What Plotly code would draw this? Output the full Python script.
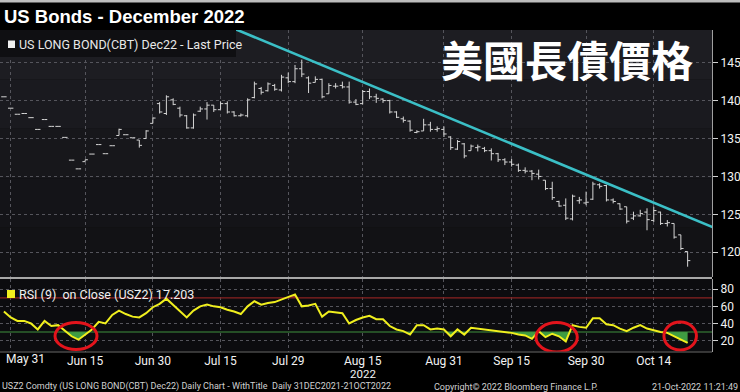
import pandas as pd
import plotly.graph_objects as go

W, H = 740, 392

# ---------------- data ----------------
HOLIDAYS = ["2022-05-30", "2022-06-20", "2022-07-04", "2022-09-05"]
dates = [d.strftime("%Y-%m-%d") for d in pd.bdate_range("2022-05-27", "2022-10-21")
         if d.strftime("%Y-%m-%d") not in HOLIDAYS]

open_ = [140.5, 139.0, 138.2, 138.3, 137.75, 136.2, 137.5, 136.6, 136.6, 135.15, 132.15, 131.0,
         131.95, 132.95, 134.2, 133.0, 134.05, 135.4, 135.5, 135.1, 134.8, 135.0,
         137.0, 139.6, 138.3, 140.1, 139.0, 138.0, 136.4, 138.6, 138.9, 139.4,
         138.8, 139.6, 138.5, 138.0, 138.0, 140.4, 141.6, 141.3, 142.0, 141.4,
         143.0, 142.5, 144.2, 143.0, 142.4, 142.8, 140.9, 141.9, 142.0, 141.8,
         139.8, 139.6, 141.2, 140.5, 140.2, 140.0, 138.5, 137.6, 137.3, 135.8,
         136.0, 136.8, 136.2, 136.2, 135.2, 133.6, 134.3, 133.4, 133.8, 133.7,
         133.4, 133.0, 132.2, 131.9, 131.5, 130.8, 130.7, 130.3, 129.5, 128.4,
         126.7, 126.2, 124.4, 126.8, 126.5, 127.0, 128.9, 128.8, 126.9, 126.4,
         126.0, 124.5, 124.8, 125.3, 124.2, 125.3, 123.8, 123.8, 122.3, 120.1]
high = [140.5, 139.0, 138.2, 138.3, 137.75, 136.2, 137.5, 136.6, 136.6, 135.15, 132.15, 131.0,
        132.2, 132.95, 134.2, 133.0, 134.05, 136.3, 135.5, 135.1, 134.8, 136.1,
        137.8, 139.8, 140.7, 140.3, 139.2, 138.1, 138.3, 139.2, 139.8, 139.4,
        139.9, 139.9, 138.6, 138.3, 140.3, 142.5, 141.8, 142.4, 142.2, 143.4,
        143.7, 144.7, 145.4, 143.2, 143.2, 142.9, 142.3, 142.3, 142.5, 142.5,
        140.2, 141.4, 141.6, 140.9, 140.3, 140.1, 138.6, 137.9, 137.4, 136.1,
        137.6, 137.2, 136.6, 136.6, 135.3, 134.8, 134.4, 134.2, 134.2, 133.9,
        133.7, 133.1, 132.4, 132.3, 131.7, 131.2, 130.85, 130.9, 129.5, 129.3,
        126.8, 127.1, 127.6, 127.3, 128.0, 129.3, 129.1, 128.9, 127.1, 126.45,
        126.0, 125.35, 125.6, 125.8, 126.0, 125.35, 124.25, 123.8, 122.3, 120.1]
low = [140.5, 139.0, 138.2, 138.3, 137.75, 136.2, 137.5, 136.6, 136.6, 135.15, 132.15, 131.0,
       131.95, 132.95, 134.2, 133.0, 134.05, 135.4, 135.5, 135.1, 133.8, 135.0,
       137.0, 138.3, 138.1, 139.4, 137.8, 136.3, 136.3, 138.5, 137.5, 138.5,
       138.8, 138.3, 137.9, 137.9, 137.8, 140.3, 140.8, 141.2, 141.3, 141.2,
       142.3, 142.3, 143.1, 141.0, 142.4, 140.3, 140.9, 141.6, 141.6, 139.6,
       139.4, 139.5, 140.2, 139.7, 139.7, 138.3, 137.7, 137.1, 135.9, 135.7,
       136.0, 135.9, 135.9, 135.2, 133.5, 133.5, 132.4, 133.4, 133.3, 133.2,
       132.1, 131.9, 131.5, 131.3, 130.6, 130.4, 129.5, 129.6, 128.2, 126.9,
       126.0, 124.25, 124.2, 126.4, 126.2, 126.9, 128.4, 126.7, 126.45, 125.6,
       123.8, 124.25, 124.7, 122.9, 124.0, 123.6, 123.4, 121.8, 120.3, 118.1]
close = [140.5, 139.0, 138.2, 138.3, 137.75, 136.2, 137.5, 136.6, 136.6, 135.15, 132.15, 131.0,
         132.2, 132.95, 134.2, 133.0, 134.05, 136.2, 135.5, 135.1, 134.1, 136.0,
         137.7, 138.5, 140.5, 139.5, 138.1, 136.4, 138.1, 138.9, 139.4, 138.8,
         139.6, 138.5, 138.0, 138.1, 140.1, 142.2, 141.1, 142.2, 141.5, 143.1,
         142.5, 144.2, 143.5, 142.3, 142.8, 140.5, 142.0, 141.9, 141.8, 139.8,
         139.5, 141.2, 140.5, 140.3, 140.0, 138.5, 137.8, 137.4, 136.1, 135.9,
         136.8, 136.2, 136.3, 135.6, 133.8, 134.6, 132.7, 134.0, 133.9, 133.4,
         133.0, 132.2, 131.9, 131.6, 130.8, 130.7, 130.4, 130.0, 128.4, 127.2,
         126.1, 124.5, 127.4, 126.9, 126.6, 129.0, 128.7, 126.9, 126.7, 125.7,
         124.1, 124.8, 125.1, 124.3, 125.5, 123.8, 123.9, 122.0, 120.5, 118.9]
rsi = [54, 47, 43, 43, 40, 33, 43, 37, 38, 31,
       25, 21, 27, 33, 42, 40, 50, 55, 51, 48,
       47, 52, 59, 63, 69, 62, 55, 47, 55, 60,
       62, 60, 59, 56, 54, 51, 60, 66, 62, 64,
       65, 68, 71, 74, 60, 61, 63, 48, 54, 53,
       52, 40, 44, 47, 49, 45, 45, 37, 33, 31,
       27, 38, 38, 33, 34, 33, 25, 33, 27, 35,
       34, 33, 32, 31, 30, 29, 27, 26, 22, 31,
       24, 28, 25, 19, 38, 36, 35, 46, 46, 39,
       38, 34, 31, 35, 38, 34, 32, 30, 29, 25,
       21, 17.203]

tick_dates = ["2022-05-31", "2022-06-15", "2022-06-30", "2022-07-15", "2022-07-29",
              "2022-08-15", "2022-08-31", "2022-09-15", "2022-09-30", "2022-10-14"]
tick_text = ["", "Jun 15", "Jun 30", "Jul 15", "Jul 29",
             "Aug 15", "Aug 31", "Sep 15", "Sep 30", "Oct 14"]
first_tick_label = "May 31"
year_label = "2022"
year_label_date = "2022-08-15"

# analyst trend line (bar-index position, price)
trend_x = [31, 105]
trend_y = [150.6, 123.2]

# red circle annotations in RSI panel (bar-index, RSI units)
circ_x0 = [7.55, 78.6, 97.5]
circ_x1 = [13.75, 84.7, 102.3]
circ_y0 = [9.5, 6.6, 8.9]
circ_y1 = [41.1, 41.0, 41.7]

RSI_LOW, RSI_HIGH = 30, 70

# ---------------- helpers ----------------
pos = list(range(len(dates)))
tickpos = [dates.index(t) for t in tick_dates]


def PX(x):
    return x / W


def PY(y):
    return 1 - y / H


def clipped(xs, ys, level, below=True):
    px, py = [], []
    for i in range(len(xs)):
        if i > 0:
            y0, y1 = ys[i - 1], ys[i]
            if (y0 - level) * (y1 - level) < 0:
                t = (level - y0) / (y1 - y0)
                px.append(xs[i - 1] + t * (xs[i] - xs[i - 1]))
                py.append(level)
        px.append(xs[i])
        py.append(min(ys[i], level) if below else max(ys[i], level))
    return px, py


FONT = "Roboto, 'Liberation Sans', Arial, sans-serif"
GRID = "#55555c"
BAR = "#d6d6d6"

fig = go.Figure()

fig.add_trace(go.Ohlc(
    x=pos, open=open_, high=high, low=low, close=close,
    increasing=dict(line=dict(color=BAR)), decreasing=dict(line=dict(color=BAR)),
    line=dict(width=1), tickwidth=0.4, xaxis="x", yaxis="y", hoverinfo="skip",
    showlegend=False))

fig.add_trace(go.Scatter(x=trend_x, y=trend_y, mode="lines",
                         line=dict(color="#3bbfc6", width=2.6),
                         xaxis="x", yaxis="y", hoverinfo="skip", showlegend=False))

# RSI fills
gx, gy = clipped(pos, rsi, RSI_LOW, below=True)
fig.add_trace(go.Scatter(x=gx, y=[RSI_LOW] * len(gx), mode="lines", line=dict(width=0),
                         xaxis="x2", yaxis="y2", hoverinfo="skip", showlegend=False))
fig.add_trace(go.Scatter(x=gx, y=gy, mode="lines", line=dict(width=0), fill="tonexty",
                         fillcolor="#3f9c42", xaxis="x2", yaxis="y2", hoverinfo="skip",
                         showlegend=False))
rx, ry = clipped(pos, rsi, RSI_HIGH, below=False)
fig.add_trace(go.Scatter(x=rx, y=[RSI_HIGH] * len(rx), mode="lines", line=dict(width=0),
                         xaxis="x2", yaxis="y2", hoverinfo="skip", showlegend=False))
fig.add_trace(go.Scatter(x=rx, y=ry, mode="lines", line=dict(width=0), fill="tonexty",
                         fillcolor="#a0452a", xaxis="x2", yaxis="y2", hoverinfo="skip",
                         showlegend=False))
# level lines
for lvl, col in ((RSI_HIGH, "#8a2222"), (RSI_LOW, "#3f8f3f")):
    fig.add_trace(go.Scatter(x=[pos[0] - 5, pos[-1] + 10], y=[lvl, lvl], mode="lines",
                             line=dict(color=col, width=1.2), xaxis="x2", yaxis="y2",
                             hoverinfo="skip", showlegend=False))
fig.add_trace(go.Scatter(x=pos, y=rsi, mode="lines", line=dict(color="#f0ef1e", width=2),
                         xaxis="x2", yaxis="y2", hoverinfo="skip", showlegend=False))

# ---------------- layout ----------------
X_DOM = [0, 712 / W]
Y1_DOM = [PY(277), PY(30)]
Y2_DOM = [PY(351.5), PY(279)]
XR = [tickpos[0] - 1.58, tickpos[0] + 103.6]

axis_common = dict(showgrid=True, gridcolor=GRID, griddash="dot", gridwidth=1,
                   zeroline=False)

fig.update_layout(
    width=W, height=H, margin=dict(l=0, r=0, t=0, b=0),
    paper_bgcolor="#000000", plot_bgcolor="#0c0c0f",
    showlegend=False,
    xaxis=dict(domain=X_DOM, range=XR, autorange=False, anchor="y", tickmode="array",
               tickvals=tickpos, showticklabels=False, ticks="",
               rangeslider=dict(visible=False), **axis_common),
    xaxis2=dict(domain=X_DOM, range=XR, autorange=False, anchor="y2", tickmode="array",
                tickvals=tickpos, ticktext=tick_text, ticks="",
                tickfont=dict(family=FONT, size=12, color="#f2f2f2"), **axis_common),
    yaxis=dict(domain=Y1_DOM, range=[116.74, 149.31], autorange=False, anchor="x",
               side="right", tickmode="linear", tick0=0, dtick=5, ticks="outside",
               ticklen=5, tickcolor="#d0d0d0", showline=True, linecolor="#a0a0a0",
               linewidth=1, tickfont=dict(family=FONT, size=12, color="#f2f2f2"),
               **axis_common),
    yaxis2=dict(domain=Y2_DOM, range=[7.2, 92.0], autorange=False, anchor="x2",
                side="right", tickmode="linear", tick0=0, dtick=20, ticks="outside",
                ticklen=5, tickcolor="#d0d0d0", showline=True, linecolor="#a0a0a0",
                linewidth=1, tickfont=dict(family=FONT, size=12, color="#f2f2f2"),
                **axis_common),
)

shapes = []
# top light strip
shapes.append(dict(type="rect", xref="paper", yref="paper", x0=0, x1=1, y0=PY(2.5), y1=1,
                   fillcolor="#bdbdbd", line=dict(width=0), layer="above"))
# price panel background bands (subtle gradient), as paper rects below everything
bands = ["#1d1d22", "#1a1a1f", "#17171b", "#141418", "#121215"]
nb = len(bands)
top, bot = 30, 277
for i, c in enumerate(bands):
    y_hi = top + (bot - top) * i / nb
    y_lo = top + (bot - top) * (i + 1) / nb
    shapes.append(dict(type="rect", xref="paper", yref="paper", x0=0, x1=X_DOM[1],
                       y0=PY(y_lo), y1=PY(y_hi), fillcolor=c,
                       line=dict(width=0), layer="below"))
# legend box in price panel
shapes.append(dict(type="rect", xref="paper", yref="paper", x0=0, x1=PX(236),
                   y0=PY(57), y1=PY(30), fillcolor="#0f0f12", line=dict(width=0),
                   layer="above"))
shapes.append(dict(type="rect", xref="paper", yref="paper", x0=PX(8), x1=PX(15),
                   y0=PY(48), y1=PY(40.5), fillcolor="#f0f0f0", line=dict(width=0),
                   layer="above"))
shapes.append(dict(type="rect", xref="paper", yref="paper", x0=PX(7), x1=PX(15),
                   y0=PY(298), y1=PY(290), fillcolor="#f0ef1e", line=dict(width=0),
                   layer="above"))
# panel separator and bottom border
shapes.append(dict(type="line", xref="paper", yref="paper", x0=0, x1=X_DOM[1],
                   y0=PY(278), y1=PY(278), line=dict(color="#a8a8a8", width=2),
                   layer="above"))
shapes.append(dict(type="line", xref="paper", yref="paper", x0=0, x1=X_DOM[1],
                   y0=PY(352), y1=PY(352), line=dict(color="#6a6a6a", width=1),
                   layer="above"))
# red circles
for a, b, c, d in zip(circ_x0, circ_x1, circ_y0, circ_y1):
    shapes.append(dict(type="circle", xref="x2", yref="y2", x0=a, x1=b, y0=c, y1=d,
                       line=dict(color="#e3141c", width=3), layer="above"))
fig.update_layout(shapes=shapes)

ann = []
ann.append(dict(text="<b>US Bonds - December 2022</b>", x=PX(2), y=PY(16.5),
                xref="paper", yref="paper", xanchor="left", yanchor="middle",
                showarrow=False,
                font=dict(family="'Liberation Sans', Arial, sans-serif", size=18.5,
                          color="#ffffff")))
ann.append(dict(text="<b>美國長債價格</b>", x=PX(567), y=PY(59), xref="paper",
                yref="paper", xanchor="center", yanchor="middle", showarrow=False,
                font=dict(family="'Noto Sans CJK TC', sans-serif", size=42,
                          color="#ffffff")))
ann.append(dict(text="US LONG BOND(CBT) Dec22 - Last Price", x=PX(17), y=PY(44.5),
                xref="paper", yref="paper", xanchor="left", yanchor="middle",
                showarrow=False, font=dict(family=FONT, size=12.5, color="#e8e8e8")))
ann.append(dict(text="RSI (9)\u00a0 on Close (USZ2) 17.203", x=PX(17), y=PY(294),
                xref="paper", yref="paper", xanchor="left", yanchor="middle",
                showarrow=False, font=dict(family=FONT, size=12.5, color="#f0f0f0")))
ann.append(dict(text=first_tick_label, x=PX(4), y=PY(359), xref="paper", yref="paper",
                xanchor="left", yanchor="middle", showarrow=False,
                font=dict(family=FONT, size=12, color="#f2f2f2")))
ann.append(dict(text=year_label, x=dates.index(year_label_date), y=PY(373.5),
                xref="x2", yref="paper", xanchor="center", yanchor="middle",
                showarrow=False, borderpad=0,
                font=dict(family=FONT, size=11.5, color="#f2f2f2")))
FOOT = dict(family=FONT, size=9, color="#d0d0d0")
ann.append(dict(text="USZ2 Comdty (US LONG BOND(CBT) Dec22) Daily Chart - WithTitle\u00a0 Daily 31DEC2021-21OCT2022",
                x=PX(1), y=PY(386.8), xref="paper", yref="paper", xanchor="left",
                yanchor="middle", showarrow=False, borderpad=0, font=FOOT))
ann.append(dict(text="Copyright\u00a9 2022 Bloomberg Finance L.P.", x=PX(433), y=PY(386.8),
                xref="paper", yref="paper", xanchor="left", yanchor="middle",
                showarrow=False, borderpad=0, font=FOOT))
ann.append(dict(text="21-Oct-2022 11:21:49", x=PX(739), y=PY(386.8), xref="paper",
                yref="paper", xanchor="right", yanchor="middle", showarrow=False,
                borderpad=0, font=FOOT))
fig.update_layout(annotations=ann)

fig.write_html("out.html", config={"displayModeBar": False},
               post_script="document.body.style.margin='0';document.body.style.background='#000';")
